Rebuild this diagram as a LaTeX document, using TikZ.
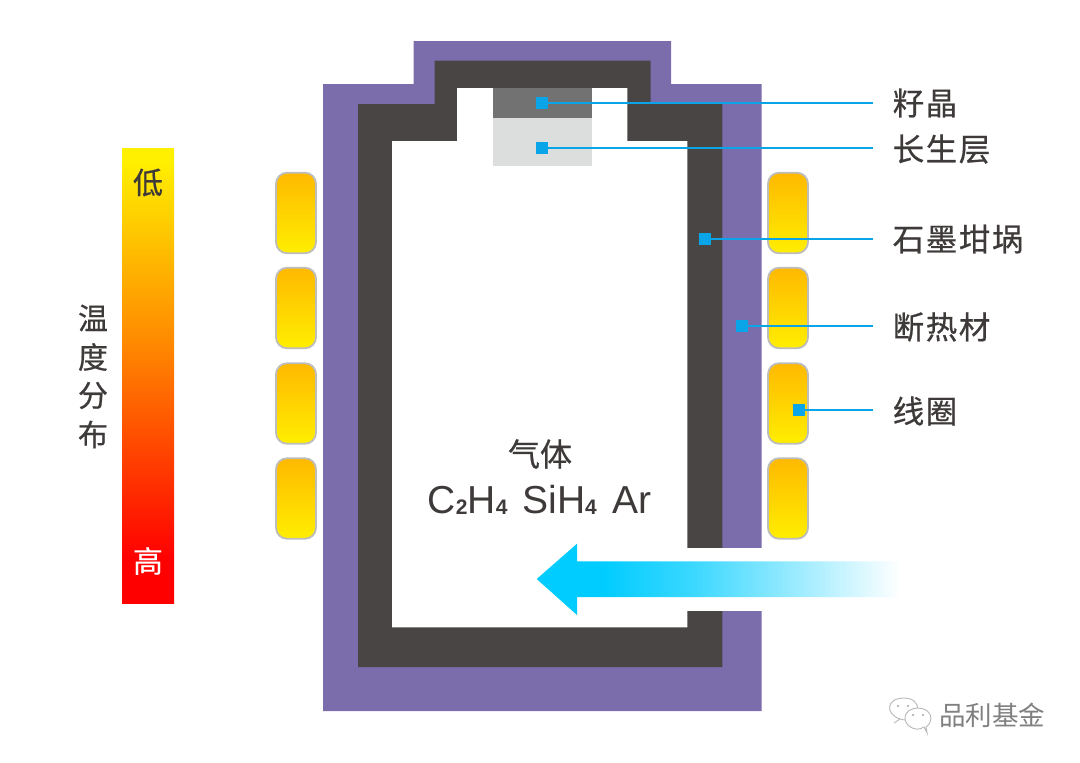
\documentclass[tikz,border=0pt]{standalone}
\usepackage{fontspec}
\setmainfont{Liberation Sans}
\newfontfamily\cjk[FakeBold=0.6]{Noto Sans CJK SC}
\newfontfamily\cjkspaced[FakeBold=0.6,LetterSpace=5]{Noto Sans CJK SC}
\newfontfamily\cjkplain{Noto Sans CJK SC}
\usetikzlibrary{calc}
\definecolor{wallpurple}{HTML}{7B6DAC}
\definecolor{walldark}{HTML}{494544}
\definecolor{seeddark}{HTML}{727272}
\definecolor{seedlight}{HTML}{DCDEDD}
\definecolor{inktext}{HTML}{3E3A39}
\definecolor{leader}{HTML}{0AA5E8}
\definecolor{coilrim}{HTML}{BDBDBD}
\definecolor{flow}{HTML}{00CCFF}
\definecolor{coiltop}{HTML}{FFB900}
\definecolor{coilbot}{HTML}{FFEE00}
\definecolor{barY}{HTML}{FFF000}
\definecolor{barO}{HTML}{FF8800}
\definecolor{barR}{HTML}{FF0000}
\pgfdeclareverticalshading{tempbar}{100bp}{
  color(0bp)=(barR); color(29.8bp)=(barR); color(53.4bp)=(barO); color(73.7bp)=(barY); color(100bp)=(barY)}
\pgfdeclarehorizontalshading{flowfade}{100bp}{
  color(0bp)=(flow); color(34bp)=(flow); color(46bp)=(flow!78!white); color(58.5bp)=(flow!45!white); color(75bp)=(white); color(100bp)=(white)}
\tikzset{
  coil/.style={draw=coilrim,line width=1.8pt,rounded corners=11pt,top color=coiltop,bottom color=coilbot,minimum width=40pt,minimum height=80.5pt,inner sep=0pt},
  tick/.style={fill=leader,inner sep=0pt,minimum size=12pt},
  wire/.style={draw=leader,line width=2pt},
  lab/.style={anchor=west,inner sep=0pt,text=inktext,font=\cjkspaced\fontsize{31.5}{32}\selectfont},
  scaletext/.style={inner sep=0pt,font=\cjk\fontsize{30}{30}\selectfont},
  temptext/.style={inner sep=0pt,text=inktext,font=\cjk\fontsize{30}{30}\selectfont},
}
\newcommand{\subd}[1]{\raisebox{-1pt}{\fontsize{21}{21}\selectfont\bfseries #1}}
\begin{document}
\begin{tikzpicture}[x=1pt,y=-1pt]
\useasboundingbox (0,0) rectangle (1080,763);
\fill[white] (0,0) rectangle (1080,763);
% insulation
\fill[wallpurple] (413.5,41) -- (671,41) -- (671,84) -- (761.7,84) -- (761.7,711) -- (323,711) -- (323,84) -- (413.5,84) -- cycle;
% crucible
\fill[walldark] (434.5,60.5) -- (650.7,60.5) -- (650.7,104) -- (722.3,104) -- (722.3,667) -- (358,667) -- (358,104) -- (434.5,104) -- cycle;
% cavity
\fill[white] (457,88) -- (627.3,88) -- (627.3,141) -- (687.3,141) -- (687.3,627.3) -- (392,627.3) -- (392,141) -- (457,141) -- cycle;
% side opening
\fill[white] (687,548) rectangle (763,611);
% seed and growth layer
\fill[seeddark] (493,88) rectangle (591.6,117.7);
\fill[seedlight] (493,117.7) rectangle (591.6,166.3);
% coils
\foreach \n/\cy in {1/213,2/308,3/403.5,4/498.5}{
  \node[coil] (cl\n) at (296,\cy) {};
  \node[coil] (cr\n) at (788,\cy) {};
}
% temperature bar
\shade[shading=tempbar] (122,148) rectangle (174,603.5);
\node[scaletext,text=inktext] (low) at (148,182.5) {低};
\node[scaletext,text=white] (high) at (148,561) {高};
\node[temptext] (t1) at (93,318) {温};
\node[temptext] (t2) at (93,357) {度};
\node[temptext] (t3) at (93,395.5) {分};
\node[temptext] (t4) at (93,434.5) {布};
% gas flow
\shade[shading=flowfade] (536.7,579) -- (577,543.7) -- (577,561.3) -- (900,561.3) -- (900,597) -- (577,597) -- (577,615) -- cycle;
% gas text
\node[inner sep=0pt,text=inktext,font=\cjk\fontsize{32}{32}\selectfont] (gas) at (540,454) {气体};
\node[inner sep=0pt,text=inktext,anchor=base,font=\fontsize{39}{40}\selectfont] (formula) at (539.5,513.5) {C\subd{2}H\subd{4}\hspace{3pt} \hspace{1pt}SiH\subd{4}\hspace{3.5pt} \hspace{1pt}Ar};
% leaders
\node[tick] (m1) at (542,103) {};
\node[tick] (m2) at (542,148) {};
\node[tick] (m3) at (705,239) {};
\node[tick] (m4) at (742,326) {};
\node[tick] (m5) at (799,410) {};
\coordinate (e1) at (873,103);
\coordinate (e2) at (873,148);
\coordinate (e3) at (873,239);
\coordinate (e4) at (873,326);
\coordinate (e5) at (873,410);
\foreach \i in {1,...,5}{\draw[wire] (m\i.center) -- (e\i);}
\node[lab] (l1) at (892.5,103) {籽晶};
\node[lab] (l2) at (892.5,149) {长生层};
\node[lab] (l3) at (892.5,239) {石墨坩埚};
\node[lab] (l4) at (892.5,327) {断热材};
\node[lab] (l5) at (892.5,411) {线圈};
% watermark
\begin{scope}[draw=black!28,fill=white,line width=0.9pt]
\filldraw (900,719) .. controls (885,714) and (886,698) .. (904,698) .. controls (913,698) and (918,703) .. (918,710) .. controls (918,717) and (908,722) .. (900,719) -- (894,723) -- cycle;
\fill[black!35] (898,706) circle (1.1pt) (908,706) circle (1.1pt);
\filldraw (924,727) .. controls (915,733) and (905,725) .. (905,718.5) .. controls (905,711) and (912,708) .. (918,708) .. controls (925,708) and (931,712) .. (931,718.5) .. controls (931,722) and (929,725) .. (926,727) -- (927,733) -- cycle;
\fill[black!35] (913,715) circle (1.1pt) (923,715) circle (1.1pt);
\end{scope}
\node[inner sep=0pt,text=black!50,font=\cjkplain\fontsize{26.5}{27}\selectfont] (wm) at (992,715) {品利基金};
\end{tikzpicture}
\end{document}
